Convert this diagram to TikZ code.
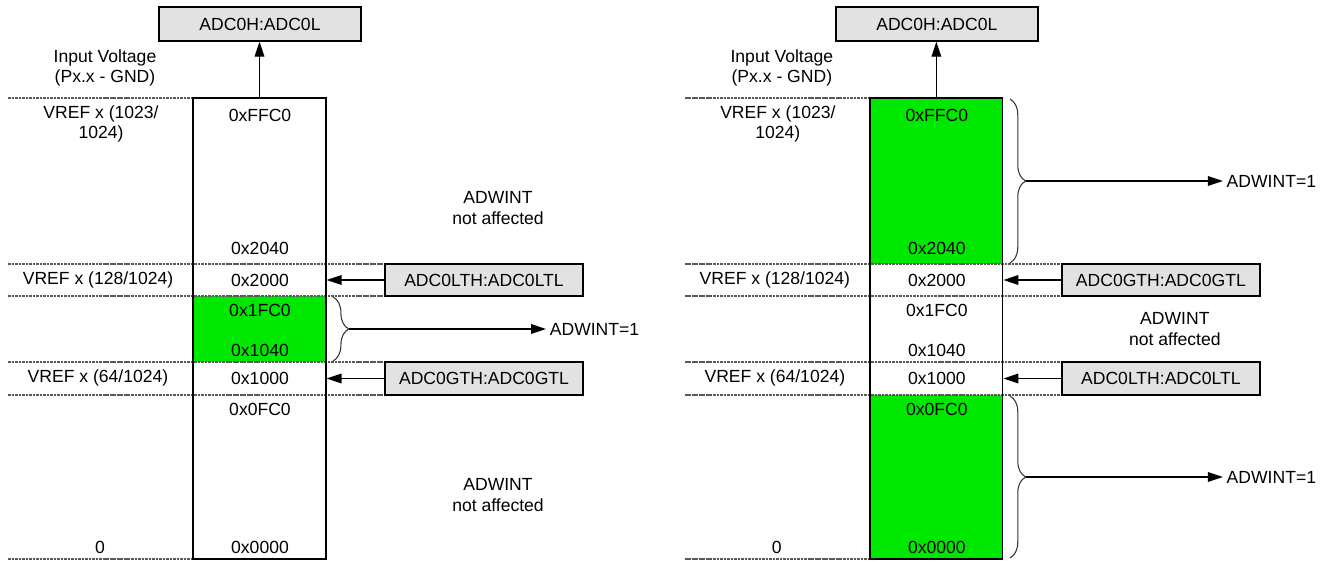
\documentclass[tikz,border=0pt]{standalone}
\usepackage{fontspec}
\setmainfont{Liberation Sans}
\usetikzlibrary{arrows.meta, positioning, decorations.pathreplacing}
\definecolor{adcgreen}{RGB}{0,232,0}
\definecolor{boxgray}{HTML}{E2E2E2}

\begin{document}
\begin{tikzpicture}[x=0.02cm, y=-0.02cm, font=\fontsize{10}{11.5}\selectfont,
    regbox/.style={draw, fill=boxgray, line width=0.8pt, inner sep=0pt},
    column/.style={draw, line width=0.7pt, inner sep=0pt, minimum width=2.66cm, minimum height=9.22cm},
    level/.style={draw=black!65, line width=1pt, dash pattern=on 1.5pt off 0.5pt},
    arr/.style={-{Triangle[length=8.5pt,width=5.5pt]}, line width=0.7pt},
    brc/.style={decorate, decoration={brace, amplitude=9pt}, line width=0.6pt, draw=black!80},
    txt/.style={inner sep=1pt, align=center}]
    \useasboundingbox (0,0) rectangle (1331,561);

    % Left: ADWINT set inside the window
    \fill[adcgreen] (193,296) rectangle (326,362);
    \foreach \yy in {264,296,362,395} \draw[level] (8,\yy) -- (583,\yy);
    \draw[level] (8,98) -- (193,98);
    \draw[level] (8,559) -- (193,559);
    \node[column] (colL) at (259.5,328.5) {};
    \node[regbox, minimum width=4.04cm, minimum height=0.68cm] (resL) at (260,24) {ADC0H:ADC0L};
    \draw[arr] (colL.north) -- (colL.north |- resL.south);
    \node[regbox, minimum width=3.96cm, minimum height=0.64cm] (ltL) at (484,280) {ADC0LTH:ADC0LTL};
    \node[regbox, minimum width=3.96cm, minimum height=0.66cm] (gtL) at (484,378.5) {ADC0GTH:ADC0GTL};
    \draw[arr] (ltL.west) -- (ltL.west -| colL.east);
    \draw[arr] (gtL.west) -- (gtL.west -| colL.east);
    \node[txt] (inL) at (105,68) {Input Voltage\\(Px.x - GND)};
    \node[txt] (vtopL) at (101,124) {VREF x (1023/\\1024)};
    \node[txt] (v128L) at (98,280) {VREF x (128/1024)};
    \node[txt] (v64L) at (98,378) {VREF x (64/1024)};
    \node[txt] (zeroL) at (100,547) {0};
    \node[txt] (aFFC0L) at (260,115) {0xFFC0};
    \node[txt] (a2040L) at (260,248) {0x2040};
    \node[txt] (a2000L) at (260,280) {0x2000};
    \node[txt] (a1FC0L) at (260,310) {0x1FC0};
    \node[txt] (a1040L) at (260,350) {0x1040};
    \node[txt] (a1000L) at (260,378) {0x1000};
    \node[txt] (a0FC0L) at (260,409) {0x0FC0};
    \node[txt] (a0000L) at (260,547) {0x0000};
    \node[txt] (naTopL) at (498,208) {ADWINT\\not affected};
    \node[txt] (naBotL) at (498,495) {ADWINT\\not affected};
    \draw[brc] (333,297) -- (333,361);
    \coordinate (tipL) at (349,329);
    \node[txt, anchor=west, inner sep=2pt] (intL) at (546,329) {ADWINT=1};
    \draw[arr] (tipL) -- (intL.west);

    % Right: ADWINT set outside the window
    \begin{scope}[xshift=13.54cm]
    \fill[adcgreen] (193,98) rectangle (326,264);
    \fill[adcgreen] (193,395) rectangle (326,559);
    \foreach \yy in {264,296,362,395} \draw[level] (8,\yy) -- (583,\yy);
    \draw[level] (8,98) -- (193,98);
    \draw[level] (8,559) -- (193,559);
    \node[column] (colR) at (259.5,328.5) {};
    \node[regbox, minimum width=4.04cm, minimum height=0.68cm] (resR) at (260,24) {ADC0H:ADC0L};
    \draw[arr] (colR.north) -- (colR.north |- resR.south);
    \node[regbox, minimum width=3.96cm, minimum height=0.64cm] (gtR) at (484,280) {ADC0GTH:ADC0GTL};
    \node[regbox, minimum width=3.96cm, minimum height=0.66cm] (ltR) at (484,378.5) {ADC0LTH:ADC0LTL};
    \draw[arr] (gtR.west) -- (gtR.west -| colR.east);
    \draw[arr] (ltR.west) -- (ltR.west -| colR.east);
    \node[txt] (inR) at (105,68) {Input Voltage\\(Px.x - GND)};
    \node[txt] (vtopR) at (101,124) {VREF x (1023/\\1024)};
    \node[txt] (v128R) at (98,280) {VREF x (128/1024)};
    \node[txt] (v64R) at (98,378) {VREF x (64/1024)};
    \node[txt] (zeroR) at (100,547) {0};
    \node[txt] (aFFC0R) at (260,115) {0xFFC0};
    \node[txt] (a2040R) at (260,248) {0x2040};
    \node[txt] (a2000R) at (260,280) {0x2000};
    \node[txt] (a1FC0R) at (260,310) {0x1FC0};
    \node[txt] (a1040R) at (260,350) {0x1040};
    \node[txt] (a1000R) at (260,378) {0x1000};
    \node[txt] (a0FC0R) at (260,409) {0x0FC0};
    \node[txt] (a0000R) at (260,547) {0x0000};
    \node[txt] (naMidR) at (498,329) {ADWINT\\not affected};
    \draw[brc] (333,99) -- (333,263);
    \draw[brc] (333,396) -- (333,558);
    \coordinate (tipTopR) at (349,181);
    \coordinate (tipBotR) at (349,477);
    \node[txt, anchor=west, inner sep=2pt] (intTopR) at (546,181) {ADWINT=1};
    \node[txt, anchor=west, inner sep=2pt] (intBotR) at (546,477) {ADWINT=1};
    \draw[arr] (tipTopR) -- (intTopR.west);
    \draw[arr] (tipBotR) -- (intBotR.west);
    \end{scope}
\end{tikzpicture}
\end{document}
